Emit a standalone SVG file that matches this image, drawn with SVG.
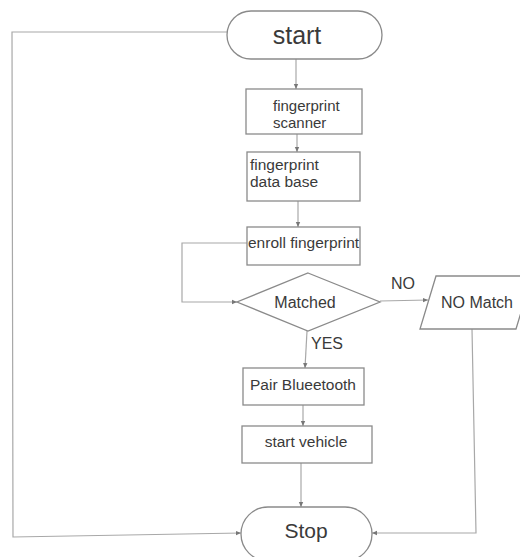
<svg xmlns="http://www.w3.org/2000/svg" width="520" height="557" viewBox="0 0 520 557">
<defs>
<marker id="ah" markerWidth="6" markerHeight="6" refX="5" refY="3" orient="auto" markerUnits="userSpaceOnUse">
<path d="M0,0.8 L5,3 L0,5.2 Z" fill="#777"/>
</marker>
<style>
.n{fill:#fff;stroke:#8a8a8a;stroke-width:1.3}
.c{fill:none;stroke:#a8a8a8;stroke-width:1.2}
.t{font-family:"Liberation Sans",Arial,sans-serif;fill:#3a3a3a}
</style>
</defs>
<rect width="520" height="557" fill="#fff"/>
<g id="connectors">
<path class="c" d="M296,59 L296,89" marker-end="url(#ah)"/>
<path class="c" d="M297,134 L297,152" marker-end="url(#ah)"/>
<path class="c" d="M298,201 L298,227" marker-end="url(#ah)"/>
<path class="c" d="M247,243 L182,243 L182,302 L237,302" marker-end="url(#ah)"/>
<path class="c" d="M380,301 L428,300" marker-end="url(#ah)"/>
<path class="c" d="M307,331 L305,368" marker-end="url(#ah)"/>
<path class="c" d="M303,405 L303,426" marker-end="url(#ah)"/>
<path class="c" d="M301,463 L301,507" marker-end="url(#ah)"/>
<path class="c" d="M227,32 L12,32 L13,537 L241,533" marker-end="url(#ah)"/>
<path class="c" d="M472,329 L476,533 L372,533" marker-end="url(#ah)"/>
<text class="t" x="403" y="289" font-size="16" text-anchor="middle">NO</text>
<text class="t" x="327" y="349" font-size="16" text-anchor="middle">YES</text>
</g>
<g id="start">
<rect class="n" x="227" y="11" width="155" height="48" rx="24"/>
<text class="t" x="297" y="44" font-size="25" text-anchor="middle">start</text>
</g>
<g id="scanner">
<rect class="n" x="246" y="89" width="116" height="45"/>
<text class="t" x="273" y="111" font-size="15">fingerprint</text>
<text class="t" x="273" y="128" font-size="15">scanner</text>
</g>
<g id="database">
<rect class="n" x="247" y="152" width="113" height="49"/>
<text class="t" x="250" y="170" font-size="15.5">fingerprint</text>
<text class="t" x="250" y="187" font-size="15.5">data base</text>
</g>
<g id="enroll">
<rect class="n" x="247" y="227" width="113" height="38"/>
<text class="t" x="248" y="248" font-size="15.5">enroll fingerprint</text>
</g>
<g id="matched">
<polygon class="n" points="308,273 380,302 308,331 237,302"/>
<text class="t" x="305" y="308" font-size="16" text-anchor="middle">Matched</text>
</g>
<g id="nomatch">
<polygon class="n" points="436,276 532,276 516,329 420,329"/>
<text class="t" x="477" y="308" font-size="16" text-anchor="middle">NO Match</text>
</g>
<g id="pair">
<rect class="n" x="243" y="368" width="121" height="37"/>
<text class="t" x="303" y="390" font-size="15.5" text-anchor="middle">Pair Blueetooth</text>
</g>
<g id="vehicle">
<rect class="n" x="242" y="426" width="130" height="37"/>
<text class="t" x="306" y="447" font-size="15.5" text-anchor="middle">start vehicle</text>
</g>
<g id="stop">
<rect class="n" x="241" y="507" width="131" height="54" rx="27"/>
<text class="t" x="306" y="538" font-size="21" text-anchor="middle">Stop</text>
</g>
</svg>
